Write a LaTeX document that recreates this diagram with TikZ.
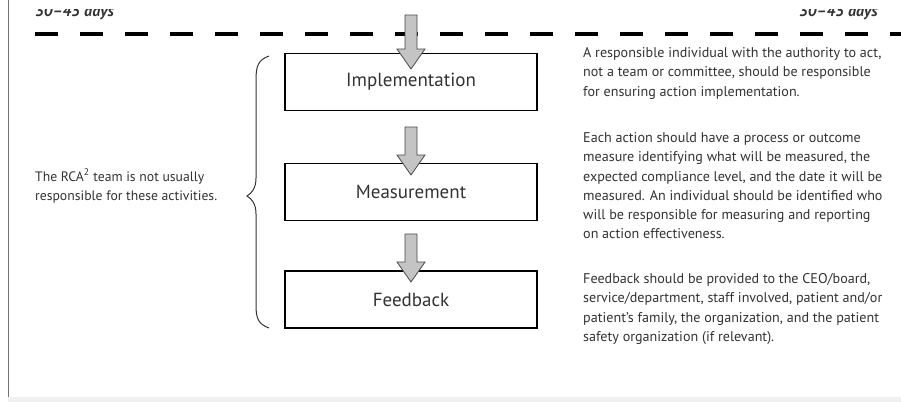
\documentclass[tikz,border=0pt]{standalone}
\usepackage{fontspec}
\setmainfont{PT Sans}
\definecolor{ink}{HTML}{333333}
\definecolor{arrowfill}{HTML}{C4C4C4}
\definecolor{arrowline}{HTML}{4A4A4A}
\tikzset{
  stepbox/.style={draw=black, line width=1.6pt, minimum width=252pt, minimum height=57pt,
    inner sep=0pt, font=\fontsize{19}{22}\selectfont, text=ink},
  flowarrow/.style={fill=arrowfill, draw=arrowline, line width=0.8pt, line join=miter},
  para/.style={anchor=north west, align=left, inner sep=0pt, text=ink,
    font=\fontsize{14.1}{19.2}\selectfont},
  dayslabel/.style={inner sep=0pt, text=ink, font=\fontsize{16}{18}\selectfont\bfseries\itshape},
}
\begin{document}
\begin{tikzpicture}[x=1pt,y=-1pt]
\useasboundingbox (0,0) rectangle (901,402);
\clip (0,0) rectangle (901,402);
\fill[white] (0,0) rectangle (901,402);
% page edge and footer band
\fill[black!6] (8,397) rectangle (901,402);
% timeline
\draw[black, line width=4pt, dash pattern=on 23pt off 22pt] (35,34) -- (901,34);
\node[dayslabel, anchor=base west] (dl) at (35,16) {30--45 days};
\node[dayslabel, anchor=base east] (dr) at (878,16) {30--45 days};
% the page above is cropped away just over the labels' lower half
\fill[white] (10,0) rectangle (901,8.5);
\draw[black!55, line width=0.9pt] (8,0) -- (8,397);
% steps
\node[stepbox] (impl) at (411,82) {Implementation};
\node[stepbox] (meas) at (411,192) {Measurement};
\node[stepbox] (feed) at (411,299.5) {Feedback};
% block arrows
\foreach \t/\h in {15/49, 127/155, 234/262}{
  \draw[flowarrow] (405,\t) -- (417,\t) -- (417,\h) -- (425,\h) -- (411,\h+20)
    -- (397,\h) -- (405,\h) -- cycle;
}
% brace grouping the steps
\draw[black!80, line width=1pt] (269,56) .. controls (258,60) and (256,66) .. (256,80)
  -- (256,178) .. controls (256,188) and (252,193) .. (247,196)
  .. controls (252,199) and (256,204) .. (256,214)
  -- (256,305) .. controls (256,318) and (258,324) .. (269,328);
\node[para, anchor=west, font=\fontsize{13.7}{19.2}\selectfont] (team) at (35,186) {The RCA\textsuperscript{2} team is not usually\\responsible for these activities.};
% descriptions
\node[para] (d1) at (583,47.5) {A responsible individual with the authority to act,\\not a team or committee, should be responsible\\for ensuring action implementation.};
\node[para] (d2) at (583,132.5) {Each action should have a process or outcome\\measure identifying what will be measured, the\\expected compliance level, and the date it will be\\measured. An individual should be identified who\\will be responsible for measuring and reporting\\on action effectiveness.};
\node[para] (d3) at (583,273.5) {Feedback should be provided to the CEO/board,\\service/department, staff involved, patient and/or\\patient's family, the organization, and the patient\\safety organization (if relevant).};
\end{tikzpicture}
\end{document}
